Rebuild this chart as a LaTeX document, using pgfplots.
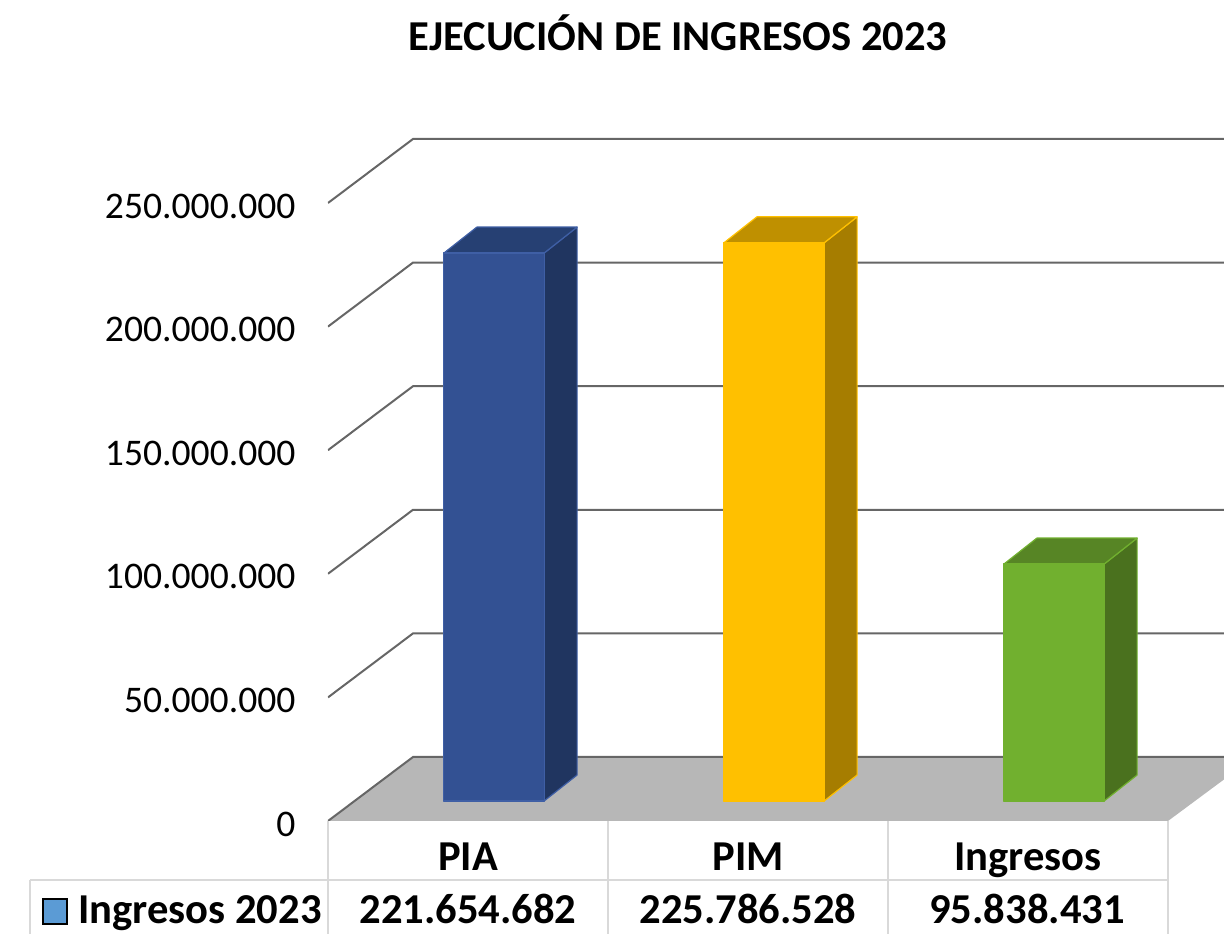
\documentclass[border=0pt]{standalone}
\usepackage{fontspec}
\setmainfont{Carlito}
\usepackage{pgfplots}
\pgfplotsset{compat=1.18}
\definecolor{gridc}{HTML}{666666}
\definecolor{floorc}{HTML}{B7B7B7}
\definecolor{tablec}{HTML}{D9D9D9}
\definecolor{bluef}{HTML}{335193}
\definecolor{bluet}{HTML}{264073}
\definecolor{blues}{HTML}{203560}
\definecolor{bluee}{HTML}{3F5FA5}
\definecolor{yelf}{HTML}{FFC000}
\definecolor{yelt}{HTML}{BF9000}
\definecolor{yels}{HTML}{A67D00}
\definecolor{grnf}{HTML}{71B02F}
\definecolor{grnt}{HTML}{578525}
\definecolor{grns}{HTML}{4A711E}
\definecolor{swatch}{HTML}{5B9BD5}
\newcommand{\tickfont}{\fontsize{37.6}{40}\selectfont}
\newcommand{\boldfont}{\fontsize{42.6}{46}\selectfont\bfseries}
\tikzset{
  bar3d/.style={xshift=26pt, yshift=20pt, line width=1.2pt, line join=round, mark=none},
  gridl/.style={draw=gridc, line width=2pt, mark=none}
}
\begin{document}
\begin{tikzpicture}
\useasboundingbox (-328pt,-113pt) rectangle (896pt,821pt);
\begin{axis}[
  at={(0pt,0pt)}, anchor=south west,
  scale only axis, width=896pt, height=721pt,
  xmin=-0.5, xmax=2.7, ymin=0, ymax=291666667,
  axis line style={draw=none},
  major tick length=0pt,
  scaled y ticks=false,
  xtick={0,1,2}, xticklabels={PIA,PIM,Ingresos},
  ytick={0,50000000,100000000,150000000,200000000,250000000},
  yticklabels={0,{50.000.000},{100.000.000},{150.000.000},{200.000.000},{250.000.000}},
  xticklabel style={font=\boldfont, text height=28pt, text depth=9pt, yshift=-18pt},
  yticklabel style={font=\tickfont, xshift=-29pt, yshift=-3pt},
]
% back wall grid lines
\addplot[gridl] coordinates {(-0.5,50000000) (-0.1964,75890000) (2.7,75890000)};
\addplot[gridl] coordinates {(-0.5,100000000) (-0.1964,125890000) (2.7,125890000)};
\addplot[gridl] coordinates {(-0.5,150000000) (-0.1964,175890000) (2.7,175890000)};
\addplot[gridl] coordinates {(-0.5,200000000) (-0.1964,225890000) (2.7,225890000)};
\addplot[gridl] coordinates {(-0.5,250000000) (-0.1964,275890000) (2.7,275890000)};
% floor
\addplot[fill=floorc, draw=none, mark=none] coordinates {(-0.5,0) (-0.1964,25890000) (2.7,25890000) (2.7,16800000) (2.5,0)} --cycle;
\addplot[gridl] coordinates {(-0.5,0) (-0.1964,25890000) (2.7,25890000)};
% PIA
\addplot[bar3d, fill=blues, draw=bluee] coordinates {(0.179,0) (0.2969,10518000) (0.2969,232172682) (0.179,221654682)} --cycle;
\addplot[bar3d, fill=bluet, draw=bluee] coordinates {(-0.179,221654682) (0.179,221654682) (0.2969,232172682) (-0.0611,232172682)} --cycle;
\addplot[bar3d, fill=bluef, draw=bluee] coordinates {(-0.179,0) (0.179,0) (0.179,221654682) (-0.179,221654682)} --cycle;
% PIM
\addplot[bar3d, fill=yels, draw=yelf] coordinates {(1.179,0) (1.2969,10518000) (1.2969,236304528) (1.179,225786528)} --cycle;
\addplot[bar3d, fill=yelt, draw=yelf] coordinates {(0.821,225786528) (1.179,225786528) (1.2969,236304528) (0.9389,236304528)} --cycle;
\addplot[bar3d, fill=yelf, draw=yelf] coordinates {(0.821,0) (1.179,0) (1.179,225786528) (0.821,225786528)} --cycle;
% Ingresos
\addplot[bar3d, fill=grns, draw=grnf] coordinates {(2.179,0) (2.2969,10518000) (2.2969,106356431) (2.179,95838431)} --cycle;
\addplot[bar3d, fill=grnt, draw=grnf] coordinates {(1.821,95838431) (2.179,95838431) (2.2969,106356431) (1.9389,106356431)} --cycle;
\addplot[bar3d, fill=grnf, draw=grnf] coordinates {(1.821,0) (2.179,0) (2.179,95838431) (1.821,95838431)} --cycle;
\end{axis}
% data table under the plot
\draw[tablec, line width=1.6pt]
  (0pt,0pt) -- (0pt,-113pt)
  (280pt,0pt) -- (280pt,-113pt)
  (560pt,0pt) -- (560pt,-113pt)
  (840pt,0pt) -- (840pt,-113pt)
  (-298pt,-59pt) -- (840pt,-59pt)
  (-298pt,-59pt) -- (-298pt,-113pt);
\draw[black, fill=swatch, line width=1.4pt] (-285pt,-103pt) rectangle (-261pt,-78pt);
\node[anchor=base west, inner sep=0pt, font=\boldfont] at (-250pt,-103pt) {Ingresos 2023};
\node[anchor=base, inner sep=0pt, font=\boldfont] at (140pt,-103pt) {221.654.682};
\node[anchor=base, inner sep=0pt, font=\boldfont] at (420pt,-103pt) {225.786.528};
\node[anchor=base, inner sep=0pt, font=\boldfont] at (699pt,-103pt) {95.838.431};
\node[anchor=base, inner sep=0pt, font=\fontsize{42.6}{46}\selectfont\bfseries] at (350pt,770pt) {EJECUCIÓN DE INGRESOS 2023};
\end{tikzpicture}
\end{document}
